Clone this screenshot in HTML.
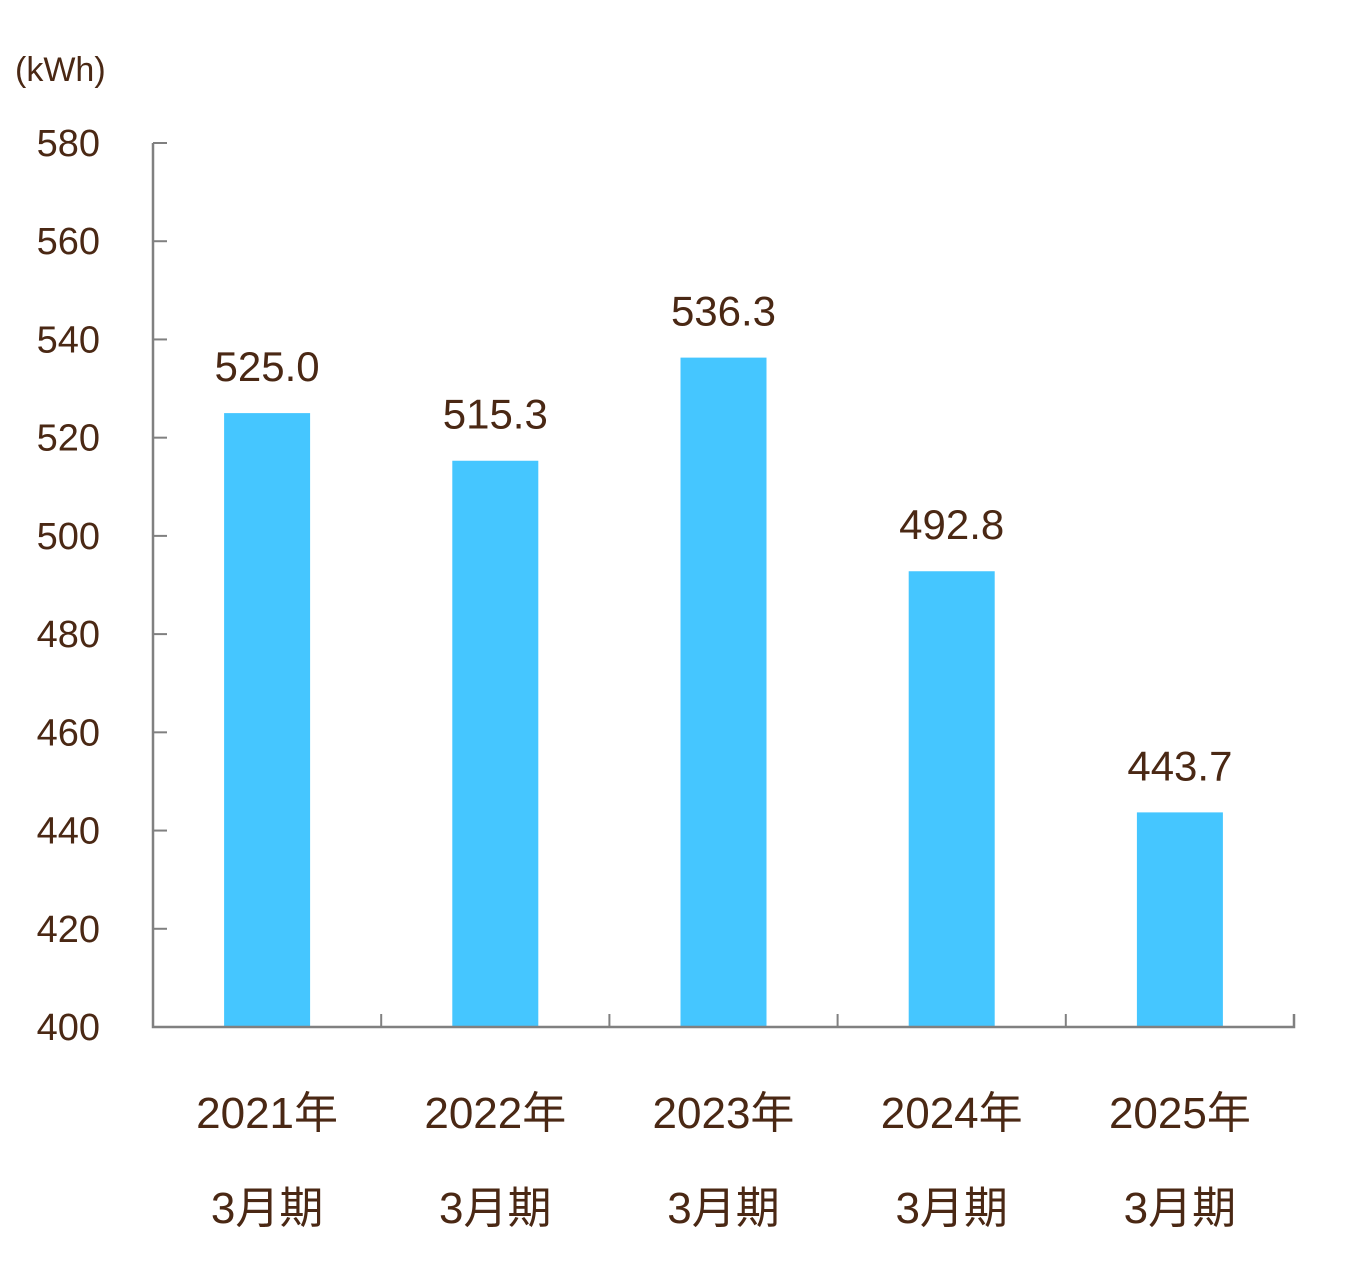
<!DOCTYPE html>
<html><head><meta charset="utf-8">
<style>
html,body{margin:0;padding:0;background:#fff;}
svg{display:block;}
text{font-family:"Liberation Sans","Noto Sans CJK JP",sans-serif;fill:#4a2814;}
</style></head>
<body>
<svg id="chart" width="1345" height="1279" xmlns="http://www.w3.org/2000/svg">
<text x="15" y="81" font-size="34">(kWh)</text>
</svg>
<script>
const categoriesYear = ["2021年","2022年","2023年","2024年","2025年"];
const categoriesPeriod = ["3月期","3月期","3月期","3月期","3月期"];
const values = [525.0, 515.3, 536.3, 492.8, 443.7];
const valueLabels = ["525.0","515.3","536.3","492.8","443.7"];
const yTicks = [400,420,440,460,480,500,520,540,560,580];

const svg = document.getElementById('chart');
const NS = 'http://www.w3.org/2000/svg';
const x0 = 153, x1 = 1294, yTop = 143, yBot = 1027, vMin = 400, vMax = 580;
const y = v => yBot - (v - vMin) / (vMax - vMin) * (yBot - yTop);
const band = (x1 - x0) / categoriesYear.length;
const xc = i => x0 + band * (i + 0.5);
function mk(tag, attrs){const e=document.createElementNS(NS,tag);for(const k in attrs)e.setAttribute(k,attrs[k]);svg.appendChild(e);return e;}

yTicks.forEach(t=>{
  const l = mk('line',{x1:x0,x2:x0+14,y1:y(t),y2:y(t),stroke:'#808080','stroke-width':2});
  
  
  const tx = mk('text',{x:100,y:y(t)+13,'text-anchor':'end','font-size':38});
  tx.textContent = t;
  
  
});
for(let i=1;i<=categoriesYear.length;i++){
  const xx = x0 + band*i;
  const l = mk('line',{x1:xx,x2:xx,y1:yBot-13,y2:yBot,stroke:'#808080','stroke-width':2});
  
  
}
values.forEach((v,i)=>{
  const r = mk('rect',{x:xc(i)-43,y:y(v),width:86,height:yBot-y(v),fill:'#45c6ff'});
  
  
  const t = mk('text',{x:xc(i),y:y(v)-32,'text-anchor':'middle','font-size':42});
  t.textContent = valueLabels[i];
  
  
  const c1 = mk('text',{x:xc(i),y:1128,'text-anchor':'middle','font-size':44});
  c1.textContent = categoriesYear[i];
  
  
  const c2 = mk('text',{x:xc(i),y:1223,'text-anchor':'middle','font-size':44});
  c2.textContent = categoriesPeriod[i];
  
  
});
const ax = mk('path',{d:`M${x0} ${yTop}V${yBot}H${x1}V${yBot-13}`,fill:'none',stroke:'#808080','stroke-width':2.5});


</script>
</body></html>
